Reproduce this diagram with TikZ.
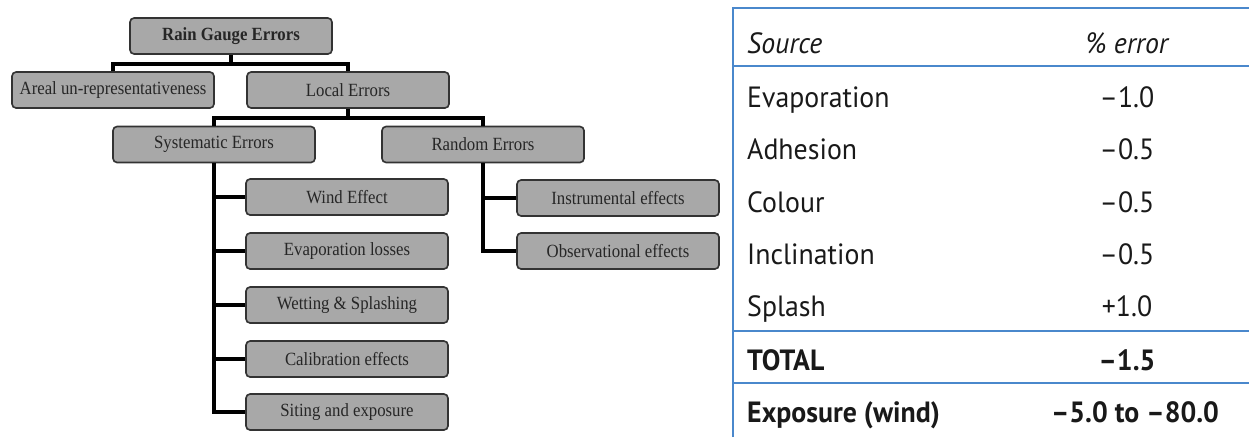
\documentclass[tikz,border=0pt]{standalone}
\usepackage{fontspec}
\newfontfamily\boxfont[FakeStretch=0.9]{Liberation Serif}
\newfontfamily\tabfont[FakeStretch=0.95]{PT Sans}
\definecolor{boxgray}{RGB}{168,168,168}
\definecolor{tabblue}{RGB}{74,136,204}
\definecolor{tabtext}{RGB}{25,25,25}
\tikzset{
  errbox/.style={draw=black!80, line width=1.4pt, fill=boxgray, rounded corners=3.5pt,
    minimum width=6.06cm, minimum height=1.08cm, inner sep=0pt, text=black!85,
    font=\boxfont\fontsize{15.9}{18}\selectfont},
  conn/.style={line width=3pt, black},
  tabline/.style={line width=1.7pt, tabblue},
  tabtxt/.style={inner sep=0pt, text=tabtext, font=\tabfont\fontsize{25}{29}\selectfont}
}
\begin{document}
\begin{tikzpicture}[x=0.03cm,y=-0.03cm]
        \useasboundingbox (0,0) rectangle (1249,437);
        % boxes
        \node[errbox] (rge) at (231,36) {\bfseries Rain Gauge Errors};
        \node[errbox] (areal) at (113,90) {Areal un-representativeness};\node[errbox] (local) at (348,90) {Local Errors};
        \node[errbox] (syst) at (214,144.5) {Systematic Errors};\node[errbox] (rand) at (483,144.5) {Random Errors};
        
        \node[errbox] (wind) at (347,197) {Wind Effect};
        \node[errbox] (evap) at (347,251) {Evaporation losses};
        \node[errbox] (wet) at (347,305) {Wetting \& Splashing};
        \node[errbox] (calib) at (347,359) {Calibration effects};
        \node[errbox] (siting) at (347,412) {Siting and exposure};
        
        \node[errbox] (instr) at (618,198) {Instrumental effects};
        \node[errbox] (obs) at (618,251) {Observational effects};
        % connectors
        \draw[conn] (rge.south) -- ++(0,9) coordinate (j1);
        \draw[conn] (areal.north) |- (j1) -| (local.north);
        \draw[conn] (local.south) -- ++(0,9) coordinate (j2);
        \draw[conn] (syst.north) |- (j2) -| (rand.north);
        
        \draw[conn] (syst.south) |- (siting.west);
        \draw[conn] (syst.south |- wind.west) -- (wind.west);\draw[conn] (syst.south |- evap.west) -- (evap.west);
        \draw[conn] (syst.south |- wet.west) -- (wet.west);\draw[conn] (syst.south |- calib.west) -- (calib.west);
        
        \draw[conn] (rand.south) |- (obs.west);
        \draw[conn] (rand.south |- instr.west) -- (instr.west);
        % table lines
        \draw[tabline] (733,437) -- (733,8) -- (1249,8);
        \draw[tabline] (733,66) -- (1249,66);
        \draw[tabline] (733,331) -- (1249,331);\draw[tabline] (733,383) -- (1249,383);
        % table text
        \node[tabtxt,anchor=base west] (src) at (747,53) {\itshape Source};
        \node[tabtxt,anchor=base] (pct) at (1127,53) {\itshape \% error};
        
        \node[tabtxt,anchor=base west] (evapr) at (747,107) {Evaporation};\node[tabtxt,anchor=base] (evapv) at (1127,107) {–1.0};
        \node[tabtxt,anchor=base west] (adh) at (747,159) {Adhesion};\node[tabtxt,anchor=base] (adhv) at (1127,159) {–0.5};
        \node[tabtxt,anchor=base west] (col) at (747,212) {Colour};\node[tabtxt,anchor=base] (colv) at (1127,212) {–0.5};
        \node[tabtxt,anchor=base west] (incl) at (747,264) {Inclination};\node[tabtxt,anchor=base] (inclv) at (1127,264) {–0.5};
        \node[tabtxt,anchor=base west] (spl) at (747,316) {Splash};\node[tabtxt,anchor=base] (splv) at (1127,316) {+1.0};
        
        \node[tabtxt,anchor=base west] (tot) at (747,370) {\bfseries TOTAL};\node[tabtxt,anchor=base] (totv) at (1127,370) {\bfseries –1.5};
        \node[tabtxt,anchor=base west] (expo) at (747,422) {\bfseries Exposure (wind)};\node[tabtxt,anchor=base] (expov) at (1135,422) {\bfseries –5.0 to –80.0};
    \end{tikzpicture}
\end{document}
